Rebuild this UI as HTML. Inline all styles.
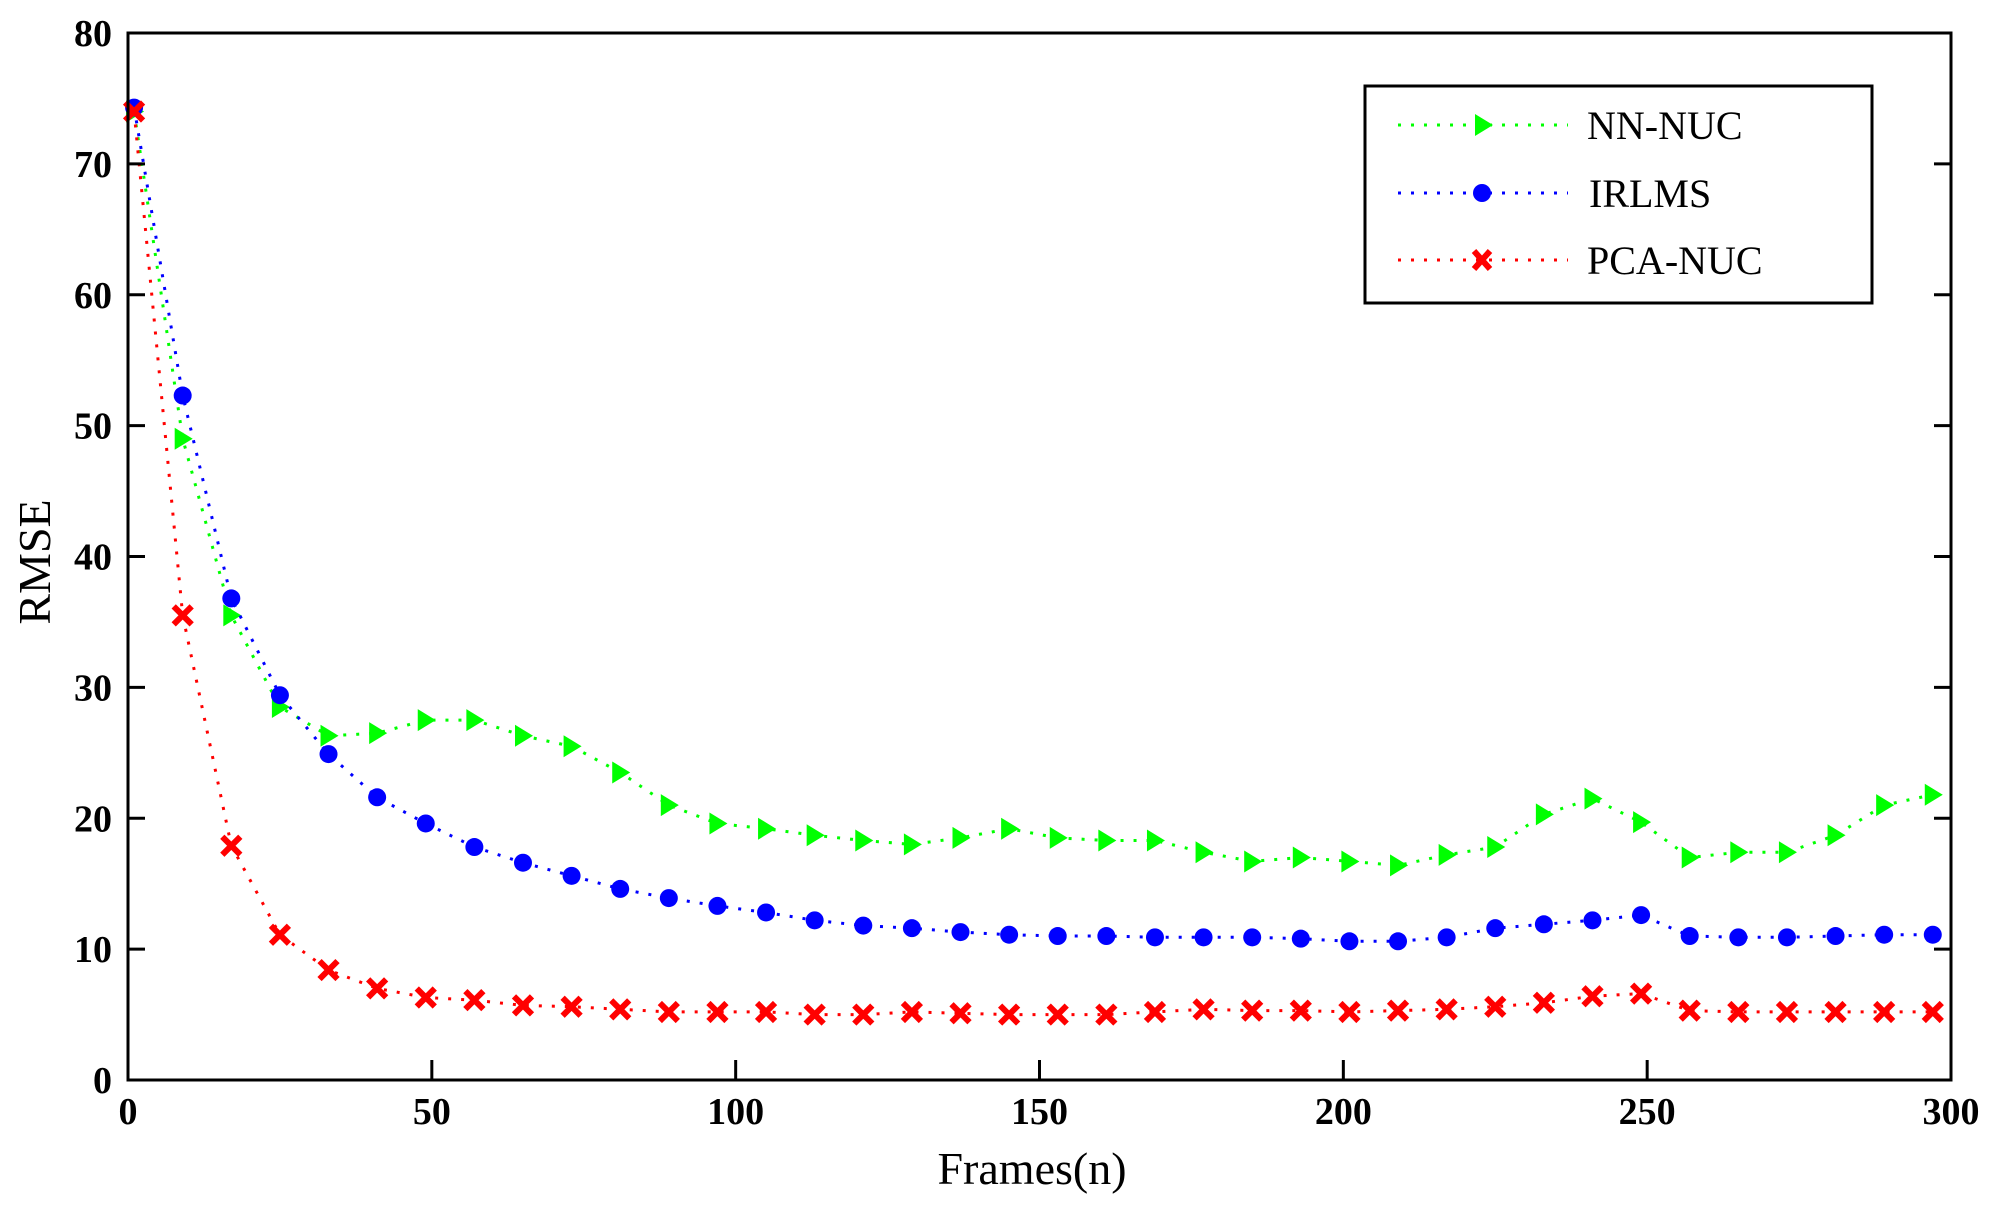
<!DOCTYPE html>
<html><head><meta charset="utf-8"><style>body{margin:0;background:#fff}svg{display:block}</style></head>
<body>
<svg id="s" width="1993" height="1211" xmlns="http://www.w3.org/2000/svg" font-family="Liberation Serif, serif">
<rect width="1993" height="1211" fill="#fff"/>
<g id="g"></g>
<rect x="128" y="33" width="1823" height="1047" fill="none" stroke="#000" stroke-width="3"/>
<g id="t" font-size="38" font-weight="bold"></g>
<text x="1032" y="1184" font-size="46" text-anchor="middle">Frames(n)</text>
<text transform="translate(50,562) rotate(-90)" font-size="46" text-anchor="middle">RMSE</text>
<rect x="1365" y="86" width="507" height="217" fill="#fff" stroke="#000" stroke-width="3"/>
<g font-size="40">
<line x1="1398" y1="125" x2="1568" y2="125" stroke="#0f0" stroke-width="3" stroke-dasharray="3,10"/>
<polygon points="1475,114 1493,125 1475,136" fill="#0f0"/>
<text x="1587" y="139">NN-NUC</text>
<line x1="1398" y1="193" x2="1568" y2="193" stroke="#00f" stroke-width="3" stroke-dasharray="3,10"/>
<circle cx="1482" cy="193" r="9" fill="#00f"/>
<text x="1589" y="207">IRLMS</text>
<line x1="1398" y1="260" x2="1568" y2="260" stroke="#f00" stroke-width="3" stroke-dasharray="3,10"/>
<path d="M1474,251 L1490,269 M1490,251 L1474,269" stroke="#f00" stroke-width="6"/>
<text x="1587" y="274">PCA-NUC</text>
</g>
</svg>
<script>
var X=f=>128+f*6.0767, Y=v=>1080-v*13.0875;
var NN=[74,49,35.5,28.5,26.3,26.5,27.5,27.5,26.3,25.5,23.5,21,19.6,19.2,18.7,18.3,18,18.5,19.2,18.5,18.3,18.3,17.4,16.7,17,16.7,16.4,17.2,17.8,20.3,21.5,19.7,17,17.4,17.4,18.7,21,21.8];
var IR=[74.3,52.3,36.8,29.4,24.9,21.6,19.6,17.8,16.6,15.6,14.6,13.9,13.3,12.8,12.2,11.8,11.6,11.3,11.1,11,11,10.9,10.9,10.9,10.8,10.6,10.6,10.9,11.6,11.9,12.2,12.6,11,10.9,10.9,11,11.1,11.1];
var PC=[74,35.5,17.9,11.1,8.4,7,6.3,6.1,5.7,5.6,5.4,5.2,5.2,5.2,5,5,5.2,5.1,5,5,5,5.2,5.4,5.3,5.3,5.2,5.3,5.4,5.6,5.9,6.4,6.6,5.3,5.2,5.2,5.2,5.2,5.2];
var h='';
function ser(d,c,m){var p=d.map((v,i)=>X(1+8*i).toFixed(1)+','+Y(v).toFixed(1)).join(' ');
h+='<polyline points="'+p+'" fill="none" stroke="'+c+'" stroke-width="3" stroke-dasharray="3,10"/>';
d.forEach((v,i)=>{var x=X(1+8*i),y=Y(v);
if(m==0)h+='<polygon points="'+(x-8)+','+(y-11)+' '+(x+10)+','+y+' '+(x-8)+','+(y+11)+'" fill="'+c+'"/>';
else if(m==1)h+='<circle cx="'+x+'" cy="'+y+'" r="9" fill="'+c+'"/>';
else h+='<path d="M'+(x-9)+','+(y-9)+' L'+(x+9)+','+(y+9)+' M'+(x+9)+','+(y-9)+' L'+(x-9)+','+(y+9)+'" stroke="'+c+'" stroke-width="6"/>';});}
ser(NN,'#0f0',0);ser(IR,'#00f',1);ser(PC,'#f00',2);
document.getElementById('g').innerHTML=h;
var t='';
for(var v=0;v<=80;v+=10){var y=Y(v);t+='<text x="112" y="'+(y+13)+'" text-anchor="end">'+v+'</text>';
if(v>0&&v<80)t+='<line x1="128" y1="'+y+'" x2="145" y2="'+y+'" stroke="#000" stroke-width="3"/><line x1="1934" y1="'+y+'" x2="1951" y2="'+y+'" stroke="#000" stroke-width="3"/>';}
for(var f=0;f<=300;f+=50){var x=X(f);t+='<text x="'+x+'" y="1124" text-anchor="middle">'+f+'</text>';
if(f>0&&f<300)t+='<line x1="'+x+'" y1="1080" x2="'+x+'" y2="1060" stroke="#000" stroke-width="3"/>';}
document.getElementById('t').innerHTML=t;
</script>
</body></html>
